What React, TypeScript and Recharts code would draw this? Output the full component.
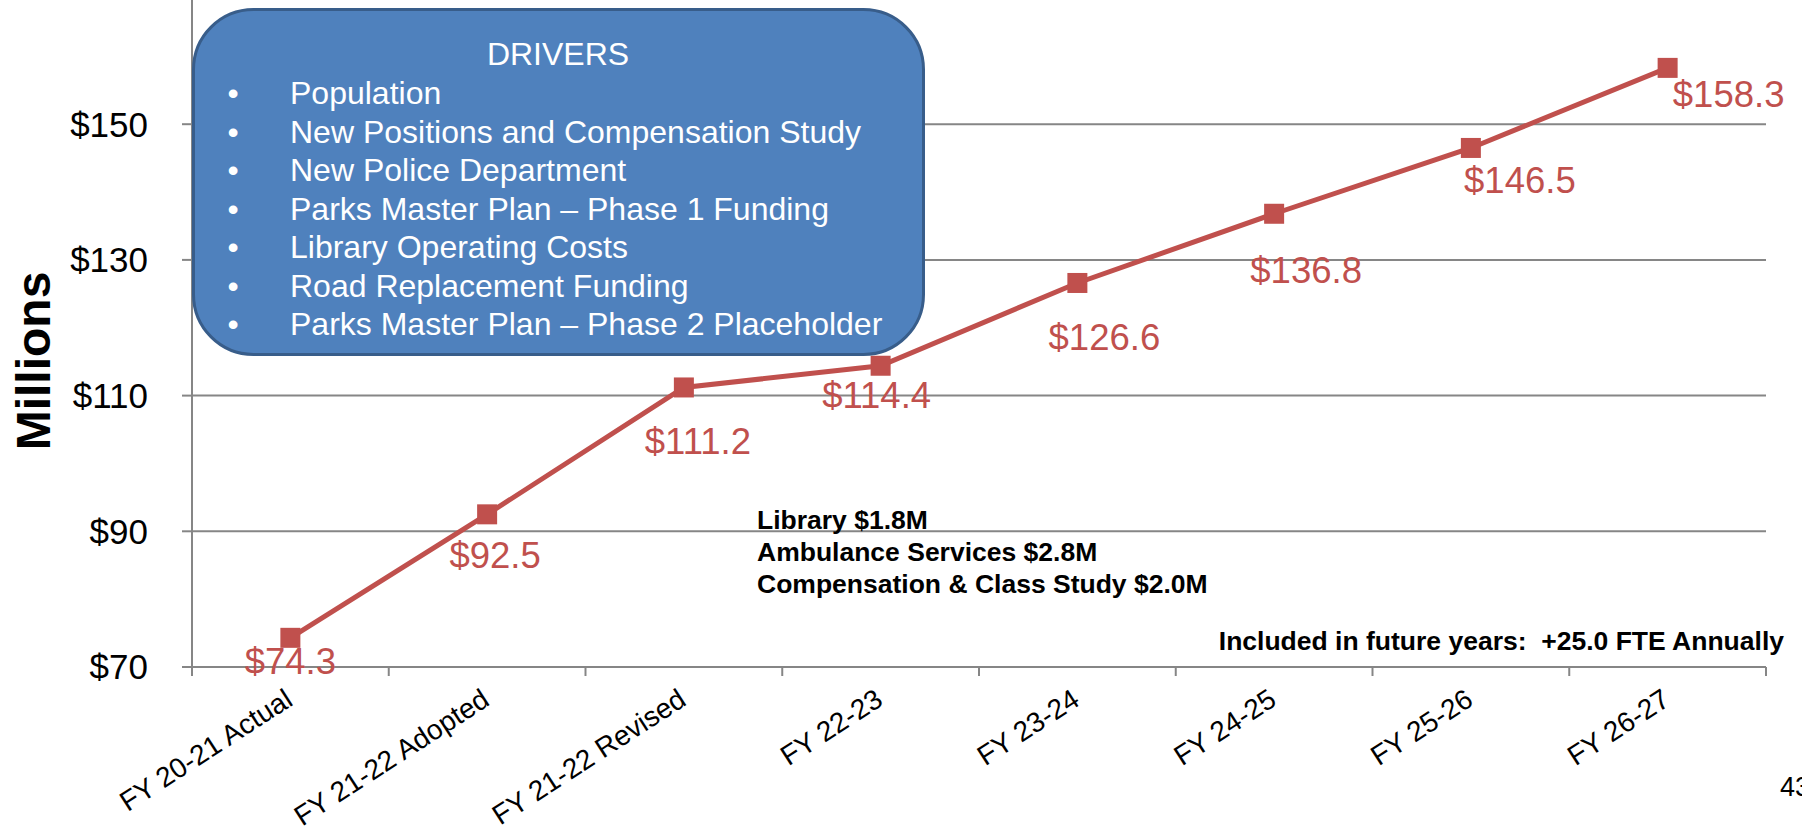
import { LineChart, Line, XAxis, YAxis, CartesianGrid, LabelList } from "recharts";

const categories = [
  "FY 20-21 Actual",
  "FY 21-22 Adopted",
  "FY 21-22 Revised",
  "FY 22-23",
  "FY 23-24",
  "FY 24-25",
  "FY 25-26",
  "FY 26-27",
];

const budget = [74.3, 92.5, 111.2, 114.4, 126.6, 136.8, 146.5, 158.3];

// axis runs to $170, but the top of it is cropped off the slide
const yTicks = [70, 90, 110, 130, 150];

const drivers = [
  "Population",
  "New Positions and Compensation Study",
  "New Police Department",
  "Parks Master Plan \u2013 Phase 1 Funding",
  "Library Operating Costs",
  "Road Replacement Funding",
  "Parks Master Plan \u2013 Phase 2 Placeholder",
];

const notes = [
  "Library $1.8M",
  "Ambulance Services $2.8M",
  "Compensation & Class Study $2.0M",
];

const futureNote = "Included in future years:  +25.0 FTE Annually";

// labels were placed by hand on the slide, offset from each marker
const labelNudge = [
  [0, 23],
  [8, 41],
  [14, 53],
  [-4, 29],
  [27, 54],
  [32, 56],
  [49, 32],
  [61, 26],
];

const chartData = categories.map((cat, i) => ({ cat, value: budget[i] }));

const FONT = '"Liberation Sans", Arial, sans-serif';
const RED = "#c0504d";
const GREY = "#868686";

const SquareDot = (props: any) => {
  const { cx, cy } = props;
  if (cx == null || cy == null) return null;
  return <rect x={cx - 10} y={cy - 10} width={20} height={20} fill={RED} />;
};

const ValueLabel = (props: any) => {
  const { x, y, value, index } = props;
  const [dx, dy] = labelNudge[index] || [0, 30];
  return (
    <text
      x={x + dx}
      y={y + dy}
      dy="0.36em"
      textAnchor="middle"
      fontSize={36.5}
      fontFamily={FONT}
      fill={RED}
    >
      ${Number(value).toFixed(1)}
    </text>
  );
};

const CategoryTick = (props: any) => {
  const { x, y, payload, index } = props;
  const half = payload?.offset || 98.4;
  const tx = x + 4;
  const ty = y + 37;
  return (
    <g>
      <line x1={x - half} x2={x - half} y1={y} y2={y + 9} stroke={GREY} strokeWidth={2} />
      {index === categories.length - 1 && (
        <line x1={x + half} x2={x + half} y1={y} y2={y + 9} stroke={GREY} strokeWidth={2} />
      )}
      <text
        x={tx}
        y={ty}
        transform={`rotate(-33, ${tx}, ${ty})`}
        textAnchor="end"
        fontSize={28}
        fontFamily={FONT}
        fill="#000"
      >
        {payload.value}
      </text>
    </g>
  );
};

export default function App() {
  return (
    <div
      style={{
        position: "fixed",
        left: 0,
        top: 0,
        width: 1802,
        height: 829,
        overflow: "hidden",
        background: "#fff",
        fontFamily: FONT,
      }}
    >
      <div style={{ position: "absolute", left: 0, top: -40 }}>
        <LineChart
          width={1802}
          height={869}
          data={chartData}
          margin={{ top: 28.5, right: 36, bottom: 12, left: 7 }}
        >
          <CartesianGrid vertical={false} stroke={GREY} strokeWidth={2} />
          <XAxis
            dataKey="cat"
            scale="band"
            interval={0}
            height={150}
            tickLine={false}
            tickSize={0}
            tickMargin={0}
            axisLine={{ stroke: GREY, strokeWidth: 2 }}
            tick={<CategoryTick />}
          />
          <YAxis
            type="number"
            domain={[70, 170]}
            ticks={yTicks}
            width={185}
            tickSize={10}
            tickMargin={34}
            tickFormatter={(v) => `$${v}`}
            tick={{ fill: "#000", fontSize: 35, fontFamily: FONT }}
            tickLine={{ stroke: GREY, strokeWidth: 2 }}
            axisLine={{ stroke: GREY, strokeWidth: 2 }}
          />
          <Line
            type="linear"
            dataKey="value"
            stroke={RED}
            strokeWidth={5}
            dot={<SquareDot />}
            activeDot={false}
            isAnimationActive={false}
          >
            <LabelList dataKey="value" content={<ValueLabel />} />
          </Line>
        </LineChart>
      </div>

      <svg
        width={1802}
        height={829}
        style={{ position: "absolute", left: 0, top: 0, pointerEvents: "none" }}
        fontFamily={FONT}
      >
        <text
          x={50}
          y={361}
          transform="rotate(-90, 50, 361)"
          textAnchor="middle"
          fontSize={48}
          fontWeight="bold"
          fill="#000"
        >
          Millions
        </text>

        <rect
          x={193.5}
          y={9.5}
          width={730}
          height={345}
          rx={60}
          ry={60}
          fill="#4f81bd"
          stroke="#385d8a"
          strokeWidth={3}
        />
        <text x={558} y={65} textAnchor="middle" fontSize={32} fill="#fff">
          DRIVERS
        </text>
        {drivers.map((d, i) => (
          <g key={d}>
            <text x={233} y={104 + i * 38.5} textAnchor="middle" fontSize={32} fill="#fff">
              {"\u2022"}
            </text>
            <text x={290} y={104 + i * 38.5} fontSize={32} fill="#fff">
              {d}
            </text>
          </g>
        ))}

        {notes.map((n, i) => (
          <text key={n} x={757} y={529 + i * 32} fontSize={26.5} fontWeight="bold" fill="#000">
            {n}
          </text>
        ))}
        <text
          x={1784}
          y={650}
          textAnchor="end"
          fontSize={26.5}
          fontWeight="bold"
          fill="#000"
          style={{ whiteSpace: "pre" }}
        >
          {futureNote}
        </text>
        <text x={1780} y={796} fontSize={27} fill="#000">
          43
        </text>
      </svg>
    </div>
  );
}
